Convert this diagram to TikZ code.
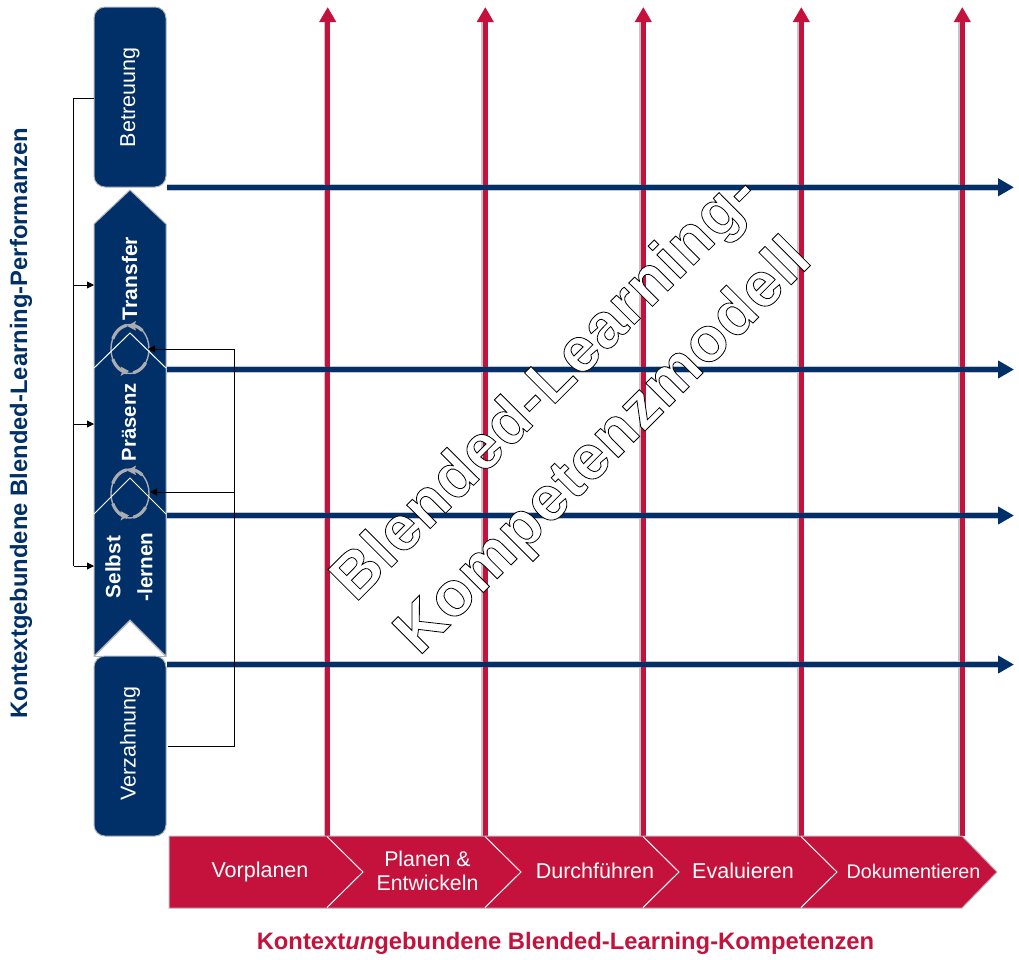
\documentclass[tikz,border=0pt]{standalone}
\usepackage{fontspec}
\setmainfont{Liberation Sans}
\usetikzlibrary{arrows.meta}
\definecolor{navy}{RGB}{0,48,103}
\definecolor{crim}{RGB}{196,18,60}
\definecolor{edgegray}{RGB}{178,178,186}
\definecolor{shade}{RGB}{196,196,204}
\definecolor{cyc}{RGB}{170,172,178}
\newcommand{\outlined}[1]{\special{pdf:code 2 Tr 0.8 w 0 0 0 RG 1 1 1 rg}#1\special{pdf:code 0 Tr 0 w}}
\tikzset{
  x=1pt,y=-1pt,
  every node/.style={inner sep=0pt,outer sep=0pt,font=\fontsize{21.5}{25}\selectfont},
  navyshape/.style={fill=navy,draw=edgegray,line width=1pt},
  crimshape/.style={fill=crim,draw=edgegray,line width=1pt},
  divider/.style={draw=white,line width=1pt},
  redarrow/.style={draw=crim,line width=4.6pt,-{Triangle[length=15pt,width=16pt]}},
  bluearrow/.style={draw=navy,line width=4.8pt,-{Triangle[length=16pt,width=17pt]}},
  redshadow/.style={draw=shade,line width=4.6pt},
  blueshadow/.style={draw=shade,line width=6.6pt},
  conn/.style={draw=black,line width=0.9pt},
  connarrow/.style={conn,-{Triangle[length=7pt,width=7pt]}},
  whitelabel/.style={text=white,align=center},
  cycthin/.style={draw=cyc,line width=1.4pt},
  cycthick/.style={draw=cyc,line width=3.2pt},
  boldlabel/.style={whitelabel,rotate=90},
  outlinetext/.style={rotate=45,text=white,font=\fontsize{63}{63}\bfseries\selectfont\addfontfeature{LetterSpace=1.7}},
}
\begin{document}
\begin{tikzpicture}
\useasboundingbox (0,0) rectangle (1019,959);
% shadows first
\foreach \x in {327.7,485.3,643.3,801.3,962.3}{
  \draw[redshadow] (\x-1.8,836) -- (\x-1.8,22);
}
\foreach \y in {187.3,369.5,515.5,664.5}{
  \draw[blueshadow] (167,\y) -- (1000,\y);
}
% red arrows
\foreach \n/\x in {a/327.7,b/485.3,c/643.3,d/801.3,e/962.3}{
  \coordinate (r\n s) at (\x,836); \coordinate (r\n e) at (\x,7);
  \draw[redarrow] (r\n s) -- (r\n e);
}
% blue arrows
\foreach \n/\y in {a/187.3,b/369.5,c/515.5,d/664.5}{
  \coordinate (b\n s) at (167,\y); \coordinate (b\n e) at (1014,\y);
  \draw[bluearrow] (b\n s) -- (b\n e);
}
% left column
\node[navyshape,rounded corners=11pt,minimum width=72pt,minimum height=180pt,anchor=north west] (betr) at (94,7) {};
\node[whitelabel,rotate=90] (betrt) at (130,97.5) {Betreuung};
\draw[navyshape] (94,224) -- (130,190) -- (166,224) -- (166,656) -- (130,620) -- (94,656) -- cycle;
\draw[fill=white,draw=edgegray,line width=0.6pt] (94.5,656.5) -- (130,621) -- (165.5,656.5) -- cycle;
\node[navyshape,rounded corners=11pt,minimum width=72pt,minimum height=180pt,anchor=north west] (verz) at (94,656) {};
\node[whitelabel,rotate=90] (verzt) at (130,743.5) {Verzahnung};
% cycles
\foreach \n/\cy in {a/349,b/493.5}{
  \coordinate (cyc\n) at (130,\cy);
  \draw[cycthin] (cyc\n) ellipse[x radius=19,y radius=24.5];
  \draw[cycthick] plot[domain=50:82,samples=12] ({130+19*cos(\x)},{\cy-24*sin(\x)});
  \draw[cycthick] plot[domain=100:155,samples=12] ({130+19*cos(\x)},{\cy-24*sin(\x)});
  \draw[cycthick] plot[domain=205:262,samples=12] ({130+19*cos(\x)},{\cy-24*sin(\x)});
  \draw[cycthick] plot[domain=280:325,samples=12] ({130+19*cos(\x)},{\cy-24*sin(\x)});
  \fill[cyc] (127,\cy-23) -- (136,\cy-28) -- (134.5,\cy-23.5) -- (136,\cy-18.5) -- cycle;
  \fill[cyc] (129,\cy+22) -- (120.5,\cy+17.5) -- (122.5,\cy+22) -- (120.5,\cy+27) -- cycle;
}
\draw[divider] (94,368) -- (130,333) -- (166,368);
\draw[divider] (94,514) -- (130,478) -- (166,514);
\node[boldlabel,font=\fontsize{21}{25}\bfseries\selectfont,anchor=west] (transfer) at (129.5,320) {Transfer};
\node[boldlabel,font=\fontsize{20.2}{24}\bfseries\selectfont,anchor=west] (praesenz) at (129,461) {Präsenz};
\node[boldlabel,font=\fontsize{20.7}{32}\bfseries\selectfont] (selbst) at (129,567) {Selbst\\-lernen};
% left bracket
\coordinate (lb1) at (73.5,98); \coordinate (lb2) at (73.5,285); \coordinate (lb3) at (73.5,424); \coordinate (lb4) at (73.5,566);
\coordinate (la2) at (94,285); \coordinate (la3) at (94,424); \coordinate (la4) at (94,566);
\draw[conn] (betr.west |- lb1) -- (lb1) -- (lb4);
\draw[connarrow] (lb2) -- (la2);
\draw[connarrow] (lb3) -- (la3);
\draw[connarrow] (lb4) -- (la4);
% right bracket
\coordinate (rb0) at (168,746); \coordinate (rb1) at (234,746); \coordinate (rb2) at (234,492); \coordinate (rb3) at (234,349);
\coordinate (tip1) at (148,349); \coordinate (tip2) at (150,492);
\draw[conn] (rb0) -- (rb1) -- (rb3);
\draw[connarrow] (rb3) -- (tip1);
\draw[connarrow] (rb2) -- (tip2);
% process chevrons
\draw[crimshape] (169,836) -- (962,836) -- (997,872) -- (962,908) -- (169,908) -- cycle;
\foreach \x in {327,485,643,801}{
  \draw[divider] (\x,836.5) -- ++(36,35.5) -- ++(-36,35.5);
}
\node[whitelabel] (p1) at (260,872) {Vorplanen};
\node[whitelabel,font=\fontsize{21.3}{24}\selectfont] (p2) at (427.5,870.5) {Planen \&\\Entwickeln};
\node[whitelabel] (p3) at (595,871) {Durchführen};
\node[whitelabel] (p4) at (743,871) {Evaluieren};
\node[whitelabel,font=\fontsize{19.7}{23}\selectfont] (p5) at (913.5,871) {Dokumentieren};
% titles
\node[rotate=90,text=navy,font=\fontsize{23.8}{28}\bfseries\selectfont] (ty) at (21,423) {Kontextgebundene Blended-Learning-Performanzen};
\node[text=crim,font=\fontsize{23.8}{28}\bfseries\selectfont] (tx) at (565.5,943) {Kontext\textit{un}gebundene Blended-Learning-Kompetenzen};
% outline title
\node[outlinetext] (ol1) at (547,389) {\outlined{Blended-Learning-}};
\node[outlinetext] (ol2) at (605,448) {\outlined{Kompetenzmodell}};
\end{tikzpicture}
\end{document}
